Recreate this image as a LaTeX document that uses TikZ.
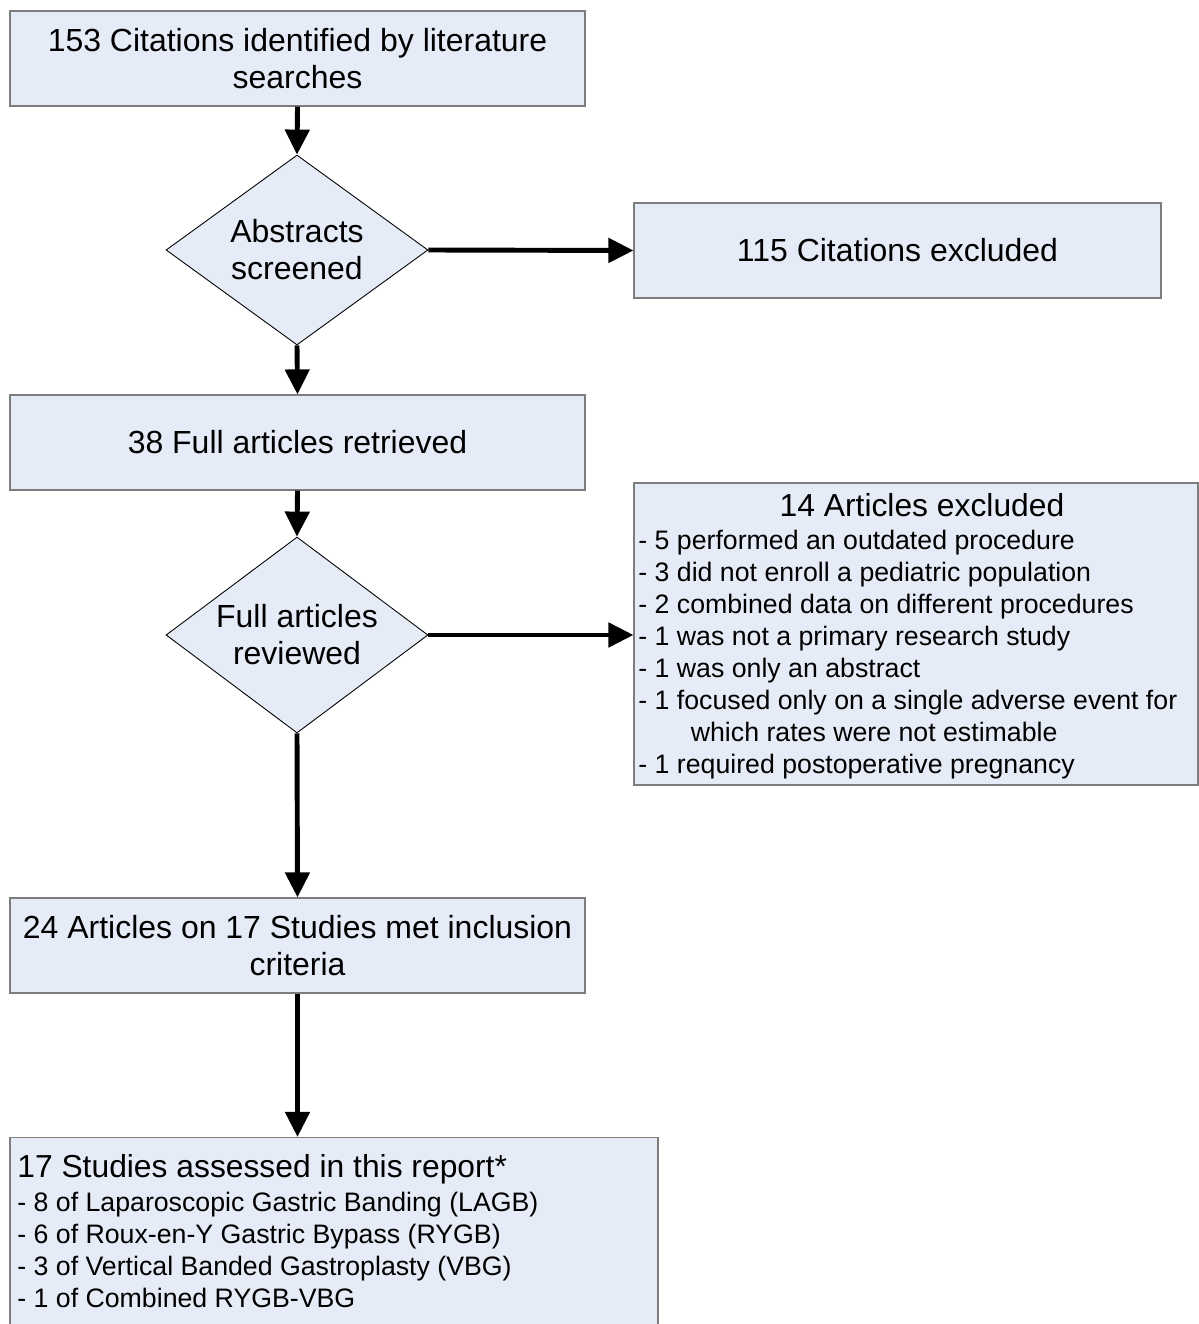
\documentclass[tikz,border=0pt]{standalone}
\usepackage{fontspec}
\setmainfont{Liberation Sans}
\usetikzlibrary{positioning, shapes.geometric, arrows.meta}
\definecolor{boxfill}{RGB}{230,236,247}
\definecolor{boxline}{RGB}{125,125,125}

\begin{document}
\begin{tikzpicture}[x=0.02cm, y=-0.02cm,
    box/.style={draw=boxline, line width=0.7pt, fill=boxfill, inner sep=0pt, align=center,
                font=\fontsize{18.2}{21}\selectfont},
    decision/.style={diamond, draw, line width=0.5pt, fill=boxfill, inner sep=0pt, align=center,
                minimum width=5.24cm, font=\fontsize{18.2}{21}\selectfont},
    listtext/.style={inner sep=0pt, align=left, font=\fontsize{15.2}{18.2}\selectfont},
    headtext/.style={inner sep=0pt, font=\fontsize{18.1}{20}\selectfont},
    flow/.style={line width=2.8pt, -{Triangle[length=0.5cm, width=0.48cm]}}]
    \useasboundingbox (0,0) rectangle (1199,1324);

    % Main column
    \node[box, minimum width=11.5cm, minimum height=1.9cm] (cites) at (297.5,58.5)
        {153 Citations identified by literature\\searches};
    \node[decision, aspect=1.38, minimum height=3.8cm] (screen) at (297,250) {Abstracts\\screened};
    \node[box, minimum width=11.5cm, minimum height=1.9cm] (fulltext) at (297.5,442.5)
        {38 Full articles retrieved};
    \node[decision, aspect=1.34, minimum height=3.92cm] (review) at (297,635) {Full articles\\reviewed};
    \node[box, minimum width=11.5cm, minimum height=1.9cm] (included) at (297.5,945.5)
        {24 Articles on 17 Studies met inclusion\\criteria};
    \node[box, minimum width=12.96cm, minimum height=4.1cm] (assessed) at (334,1240) {};
    \node[headtext, anchor=west] (assessedhead) at (17,1169) {17 Studies assessed in this report*};
    \node[listtext, anchor=north west] (assessedlist) at (17,1192)
        {- 8 of Laparoscopic Gastric Banding (LAGB)\\
         - 6 of Roux-en-Y Gastric Bypass (RYGB)\\
         - 3 of Vertical Banded Gastroplasty (VBG)\\
         - 1 of Combined RYGB-VBG};

    % Exclusions
    \node[box, minimum width=10.54cm, minimum height=1.9cm] (excl1) at (897.5,250.5)
        {115 Citations excluded};
    \node[box, minimum width=11.28cm, minimum height=6.04cm] (excl2) at (916,634) {};
    \node[headtext] (excl2head) at (922,505) {14 Articles excluded};
    \node[listtext, anchor=north west] (excl2list) at (638,530)
        {- 5 performed an outdated procedure\\
         - 3 did not enroll a pediatric population\\
         - 2 combined data on different procedures\\
         - 1 was not a primary research study\\
         - 1 was only an abstract\\
         - 1 focused only on a single adverse event for\\
         \hspace*{1.05cm}which rates were not estimable\\
         - 1 required postoperative pregnancy};

    % Connections
    \draw[flow] (cites.south) -- (screen.north);
    \draw[flow] (screen.south) -- (fulltext.north);
    \draw[flow] (screen.east) -- (excl1.west);
    \draw[flow] (fulltext.south) -- (review.north);
    \draw[flow] (review.east) -- (review.east -| excl2.west);
    \draw[flow] (review.south) -- (included.north);
    \draw[flow] (included.south) -- (included.south |- assessed.north);
\end{tikzpicture}
\end{document}
